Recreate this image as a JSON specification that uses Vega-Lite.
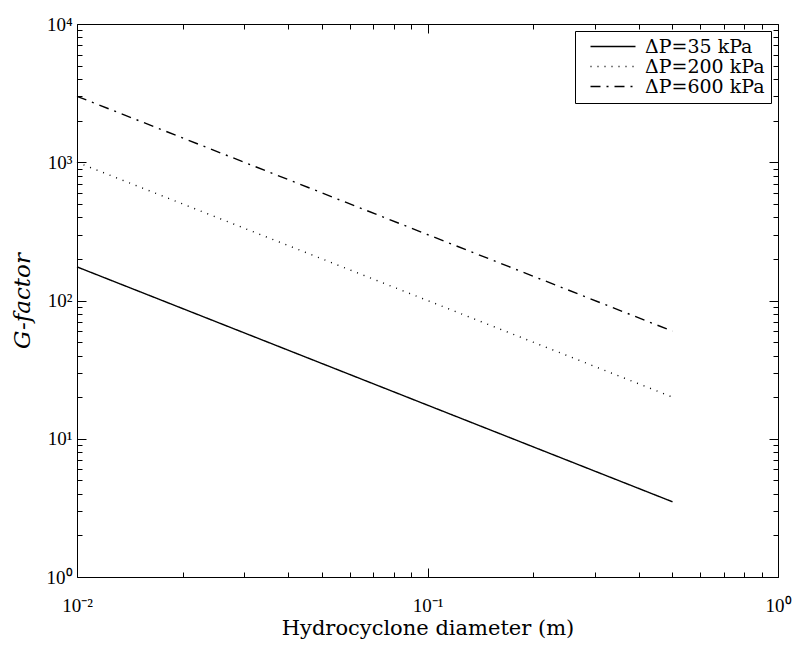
{
  "$schema": "https://vega.github.io/schema/vega-lite/v6.json",
  "width": 701,
  "height": 553,
  "autosize": "none",
  "padding": {"left": 77, "top": 24, "right": 19, "bottom": 68},
  "background": "white",
  "config": {
    "font": "DejaVu Serif",
    "view": {"stroke": null},
    "axis": {
      "grid": false,
      "domainColor": "black",
      "domainWidth": 1,
      "tickColor": "black",
      "tickWidth": 1,
      "labelColor": "black",
      "titleColor": "black",
      "labelFont": "Liberation Serif",
      "titleFont": "DejaVu Serif",
      "labelFontSize": 19,
      "titleFontSize": 21,
      "titleFontWeight": "normal",
      "labelFlush": false,
      "labelOverlap": false
    }
  },
  "data": {
    "values": [
      {"series": "ΔP=35 kPa", "D": 0.01, "G": 175},
      {"series": "ΔP=35 kPa", "D": 0.02, "G": 87.5},
      {"series": "ΔP=35 kPa", "D": 0.05, "G": 35},
      {"series": "ΔP=35 kPa", "D": 0.1, "G": 17.5},
      {"series": "ΔP=35 kPa", "D": 0.2, "G": 8.75},
      {"series": "ΔP=35 kPa", "D": 0.5, "G": 3.5},
      {"series": "ΔP=200 kPa", "D": 0.01, "G": 1000},
      {"series": "ΔP=200 kPa", "D": 0.02, "G": 500},
      {"series": "ΔP=200 kPa", "D": 0.05, "G": 200},
      {"series": "ΔP=200 kPa", "D": 0.1, "G": 100},
      {"series": "ΔP=200 kPa", "D": 0.2, "G": 50},
      {"series": "ΔP=200 kPa", "D": 0.5, "G": 20},
      {"series": "ΔP=600 kPa", "D": 0.01, "G": 3000},
      {"series": "ΔP=600 kPa", "D": 0.02, "G": 1500},
      {"series": "ΔP=600 kPa", "D": 0.05, "G": 600},
      {"series": "ΔP=600 kPa", "D": 0.1, "G": 300},
      {"series": "ΔP=600 kPa", "D": 0.2, "G": 150},
      {"series": "ΔP=600 kPa", "D": 0.5, "G": 60}
    ]
  },
  "layer": [
    {
      "mark": {"type": "line", "color": "black", "strokeWidth": 1.4},
      "encoding": {
        "x": {
          "field": "D",
          "type": "quantitative",
          "scale": {"type": "log", "domain": [0.01, 1]},
          "axis": {
            "orient": "bottom",
            "title": "Hydrocyclone diameter (m)",
            "values": [0.01, 0.02, 0.03, 0.04, 0.05, 0.06, 0.07, 0.08, 0.09, 0.1, 0.2, 0.3, 0.4, 0.5, 0.6, 0.7, 0.8, 0.9, 1],
            "labelExpr": "datum.value == 0.01 ? '10⁻²' : datum.value == 0.1 ? '10⁻¹' : datum.value == 1 ? '10⁰' : ''",
            "tickSize": {"condition": {"test": "indexof([0.01, 0.1, 1], datum.value) >= 0", "value": -9}, "value": -5},
            "labelPadding": 28,
            "titlePadding": -2
          }
        },
        "y": {
          "field": "G",
          "type": "quantitative",
          "scale": {"type": "log", "domain": [1, 10000]},
          "axis": {
            "orient": "left",
            "title": "G-factor",
            "titleFontStyle": "italic",
            "titleFontSize": 23,
            "values": [1, 2, 3, 4, 5, 6, 7, 8, 9, 10, 20, 30, 40, 50, 60, 70, 80, 90, 100, 200, 300, 400, 500, 600, 700, 800, 900, 1000, 2000, 3000, 4000, 5000, 6000, 7000, 8000, 9000, 10000],
            "labelExpr": "datum.value == 1 ? '10⁰' : datum.value == 10 ? '10¹' : datum.value == 100 ? '10²' : datum.value == 1000 ? '10³' : datum.value == 10000 ? '10⁴' : ''",
            "tickSize": {"condition": {"test": "indexof([1, 10, 100, 1000, 10000], datum.value) >= 0", "value": -9}, "value": -5},
            "labelPadding": 14,
            "titlePadding": 12
          }
        },
        "strokeDash": {
          "field": "series",
          "type": "nominal",
          "scale": {
            "domain": ["ΔP=35 kPa", "ΔP=200 kPa", "ΔP=600 kPa"],
            "range": [[1, 0], [1, 6], [10, 6, 2, 6]]
          },
          "legend": {
            "title": null,
            "orient": "top-right",
            "offset": 7,
            "symbolType": "M0,0H9",
            "symbolSize": 100,
            "symbolStrokeColor": "black",
            "symbolStrokeWidth": 1.4,
            "labelFont": "DejaVu Serif",
            "labelFontSize": 19,
            "labelColor": "black",
            "labelExpr": "datum.label + '   '",
            "strokeColor": "black",
            "fillColor": "white",
            "padding": 6,
            "rowPadding": 0,
            "labelOffset": 45
          }
        }
      }
    },
    {
      "mark": {"type": "line", "opacity": 0},
      "encoding": {
        "x": {
          "field": "D",
          "type": "quantitative",
          "scale": {"type": "log", "domain": [0.01, 1]},
          "axis": {
            "orient": "top",
            "title": null,
            "labels": false,
            "values": [0.01, 0.02, 0.03, 0.04, 0.05, 0.06, 0.07, 0.08, 0.09, 0.1, 0.2, 0.3, 0.4, 0.5, 0.6, 0.7, 0.8, 0.9, 1],
            "tickSize": {"condition": {"test": "indexof([0.01, 0.1, 1], datum.value) >= 0", "value": -9}, "value": -5}
          }
        },
        "y": {
          "field": "G",
          "type": "quantitative",
          "scale": {"type": "log", "domain": [1, 10000]},
          "axis": {
            "orient": "right",
            "title": null,
            "labels": false,
            "values": [1, 2, 3, 4, 5, 6, 7, 8, 9, 10, 20, 30, 40, 50, 60, 70, 80, 90, 100, 200, 300, 400, 500, 600, 700, 800, 900, 1000, 2000, 3000, 4000, 5000, 6000, 7000, 8000, 9000, 10000],
            "tickSize": {"condition": {"test": "indexof([1, 10, 100, 1000, 10000], datum.value) >= 0", "value": -9}, "value": -5}
          }
        },
        "detail": {"field": "series", "type": "nominal"}
      }
    }
  ],
  "resolve": {"axis": {"x": "independent", "y": "independent"}}
}
